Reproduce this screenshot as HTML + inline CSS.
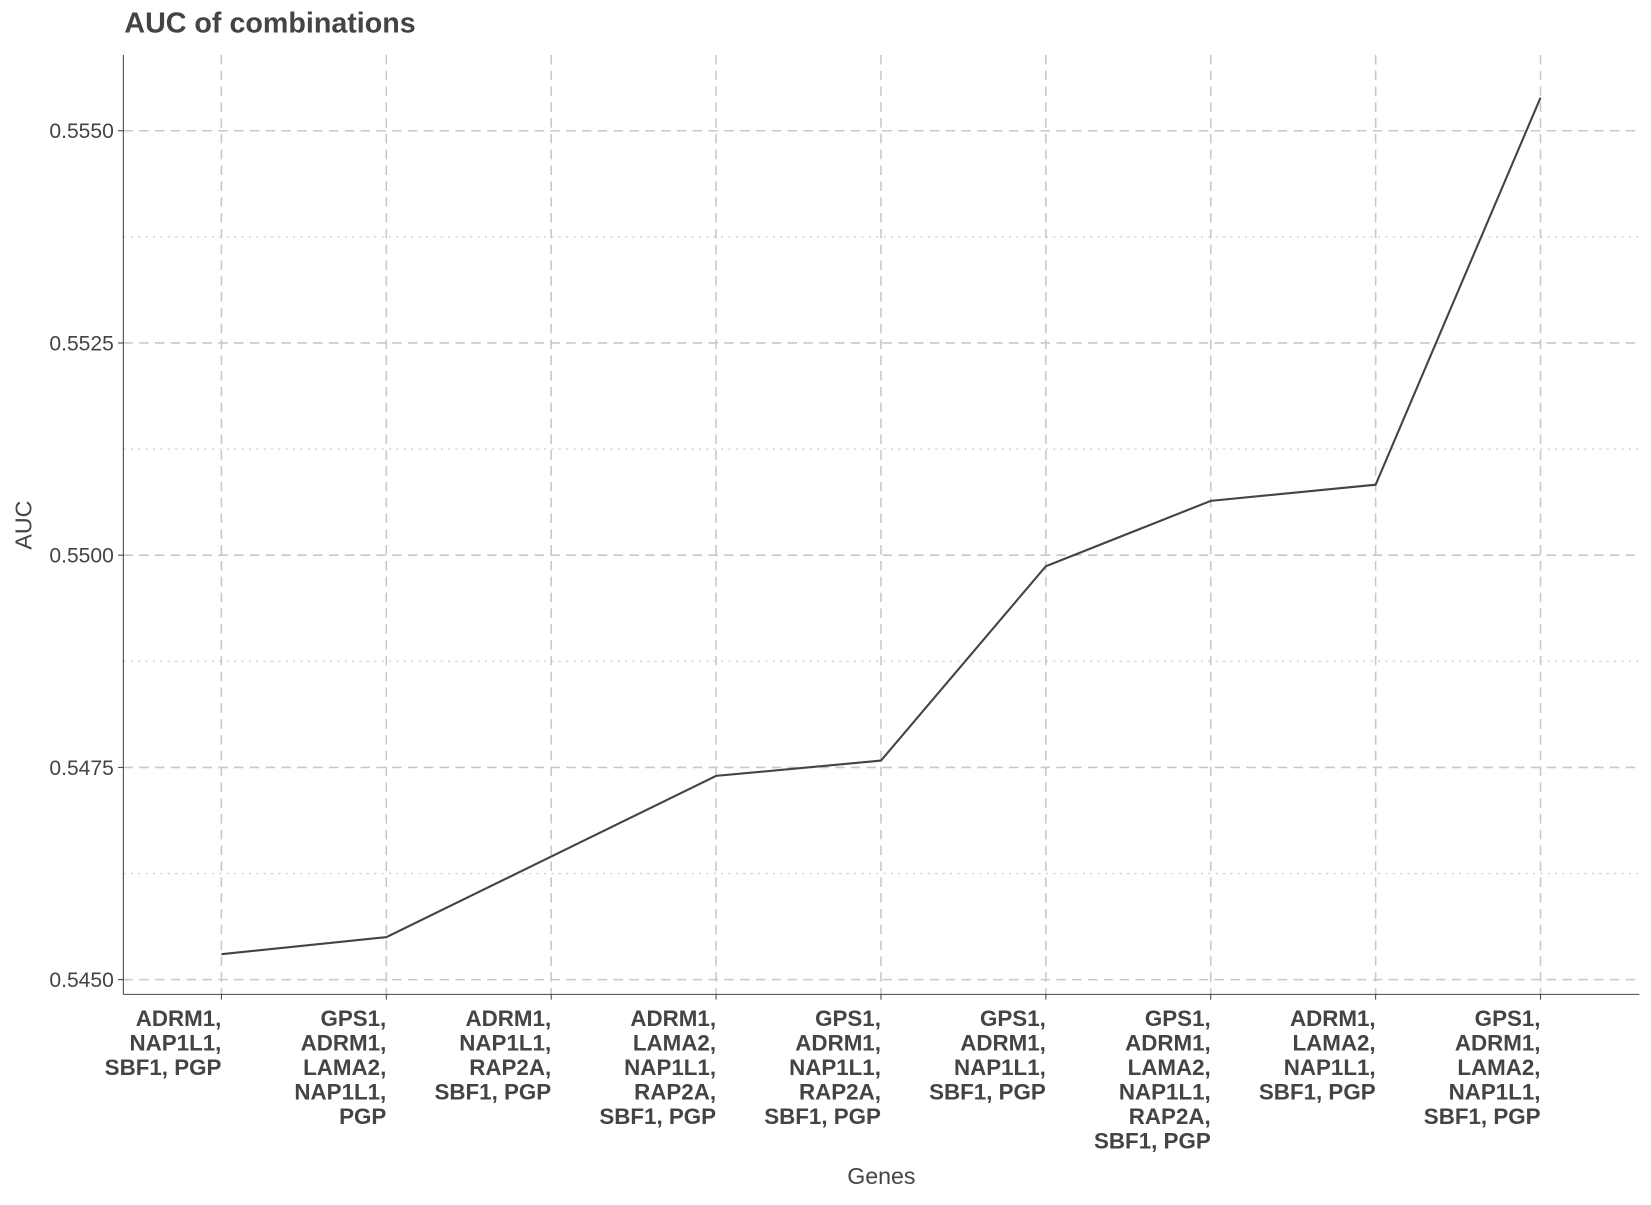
<!DOCTYPE html>
<html><head><meta charset="utf-8"><style>
body{margin:0;background:#fff;}
svg text{font-family:"Liberation Sans",Arial,sans-serif;}
</style></head><body>
<svg id="chart" width="1651" height="1200" viewBox="0 0 1566 1138" preserveAspectRatio="none" xmlns="http://www.w3.org/2000/svg">
<text x="118" y="31" font-size="27.2" font-weight="bold" fill="#444">AUC of combinations</text>
<g id="grid"></g>
<g id="axes"></g>
<g id="series"></g>
<text x="836" y="1123" font-size="22" fill="#444" text-anchor="middle">Genes</text>
<text transform="translate(30,498) rotate(-90)" font-size="22" fill="#444" text-anchor="middle">AUC</text>
</svg>
<script>
const categories = [
 ["ADRM1,","NAP1L1,","SBF1, PGP"],
 ["GPS1,","ADRM1,","LAMA2,","NAP1L1,","PGP"],
 ["ADRM1,","NAP1L1,","RAP2A,","SBF1, PGP"],
 ["ADRM1,","LAMA2,","NAP1L1,","RAP2A,","SBF1, PGP"],
 ["GPS1,","ADRM1,","NAP1L1,","RAP2A,","SBF1, PGP"],
 ["GPS1,","ADRM1,","NAP1L1,","SBF1, PGP"],
 ["GPS1,","ADRM1,","LAMA2,","NAP1L1,","RAP2A,","SBF1, PGP"],
 ["ADRM1,","LAMA2,","NAP1L1,","SBF1, PGP"],
 ["GPS1,","ADRM1,","LAMA2,","NAP1L1,","SBF1, PGP"]
];
const aucValues = [0.54530,0.54550,0.54645,0.54740,0.54758,0.54987,0.55064,0.55083,0.55539];
const yTicks = [0.5450,0.5475,0.5500,0.5525,0.5550];
const yTickLabels = ["0.5450","0.5475","0.5500","0.5525","0.5550"];
const yMinorTicks = [0.54625,0.54875,0.55125,0.55375];

const NS="http://www.w3.org/2000/svg";
const L=117,R=1555,T=52,B=943;
const x0=210,step=156.4;
function xScale(i){return x0+i*step;}
function yScale(v){return 929-(v-0.5450)/0.01*805;}
function mk(tag,attrs,parent){const e=document.createElementNS(NS,tag);for(const k in attrs)e.setAttribute(k,attrs[k]);parent.appendChild(e);return e;}
const grid=document.getElementById('grid'),axes=document.getElementById('axes'),series=document.getElementById('series');
yMinorTicks.forEach(v=>{const y=yScale(v);
 const l=mk('line',{x1:L,x2:R,y1:y,y2:y,stroke:'#d0d0d0','stroke-width':1.3,'stroke-dasharray':'2,5'},grid);
 
 });
yTicks.forEach((v,i)=>{const y=yScale(v);
 const l=mk('line',{x1:L,x2:R,y1:y,y2:y,stroke:'#c8c8c8','stroke-width':1.5,'stroke-dasharray':'9,6'},grid);
 
 
 const tk=mk('line',{x1:L-5,x2:L,y1:y,y2:y,stroke:'#444','stroke-width':1},axes);
 
 
 const t=mk('text',{x:L-9,y:y+7,'font-size':20,fill:'#444','text-anchor':'end'},axes);
 t.textContent=yTickLabels[i];
 
 });
categories.forEach((c,i)=>{const x=xScale(i);
 const l=mk('line',{x1:x,x2:x,y1:T,y2:B,stroke:'#c8c8c8','stroke-width':1.5,'stroke-dasharray':'9,6'},grid);
 
 
 const tk=mk('line',{x1:x,x2:x,y1:B,y2:B+5,stroke:'#444','stroke-width':1},axes);
 
 
 const t=mk('text',{x:x,y:973,'font-size':21.2,'font-weight':'bold',fill:'#444','text-anchor':'end'},axes);
 
 
 c.forEach((s,j)=>{const ts=mk('tspan',{x:x,dy:j?23.2:0},t);ts.textContent=s;});});
const ya=mk('line',{x1:L,x2:L,y1:T,y2:B,stroke:'#444','stroke-width':1},axes);


const xa=mk('line',{x1:L,x2:R,y1:B,y2:B,stroke:'#444','stroke-width':1},axes);


const pts=aucValues.map((v,i)=>xScale(i)+','+yScale(v)).join(' ');
const pl=mk('polyline',{points:pts,fill:'none',stroke:'#444','stroke-width':2},series);


</script>
</body></html>
